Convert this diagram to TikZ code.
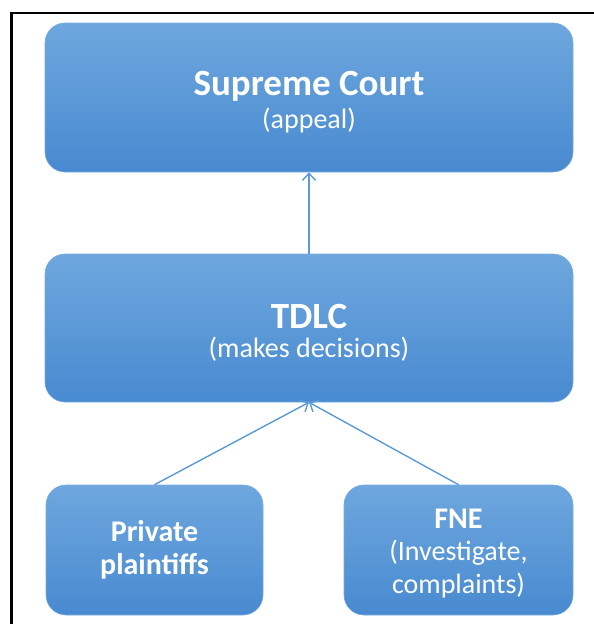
\documentclass[tikz,border=0pt]{standalone}
\usepackage{fontspec}
\setmainfont{Carlito}
\usepackage{tikz}
\usetikzlibrary{arrows.meta}
\definecolor{boxtop}{RGB}{110,167,222}
\definecolor{boxbottom}{RGB}{72,138,208}
\definecolor{boxline}{RGB}{120,172,222}
\definecolor{arrowblue}{RGB}{91,155,213}
\tikzstyle{court}=[rectangle,rounded corners=20pt,top color=boxtop,bottom color=boxbottom,draw=boxline,line width=0.6pt,text=white,align=center,inner sep=0pt,font=\fontsize{28}{32}\selectfont]
\tikzstyle{feed}=[arrowblue,line width=1.4pt,-{Straight Barb[length=7pt,width=13pt,line width=1.4pt]}]
\newcommand{\headtext}[1]{{\bfseries\fontsize{37}{32}\selectfont #1}}
\newcommand{\subtext}[1]{{\fontsize{28}{32}\selectfont #1}}
\newcommand{\smallhead}[1]{{\bfseries\fontsize{30}{32}\selectfont #1}}
\newcommand{\lift}[1]{\rule{0pt}{#1}}

\begin{document}
\begin{tikzpicture}[x=1pt,y=-1pt]
          \useasboundingbox (0,0) rectangle (594,624);
          \draw[line width=2.5pt] (11.5,624) -- (11.5,13) -- (594,13);
          \node[court,minimum width=528pt,minimum height=149pt] (supreme) at (309,97.5)
            {\lift{34pt}\headtext{Supreme Court}\\[1pt]\subtext{(appeal)}};
          \node[court,minimum width=528pt,minimum height=148pt] (tdlc) at (309,328)
            {\lift{34pt}\headtext{TDLC}\\[-3pt]\subtext{(makes decisions)}};
          \node[court,minimum width=217pt,minimum height=130pt] (private) at (154.5,550)
            {\smallhead{Private}\\[1pt]\smallhead{plaintiffs}};
          \node[court,minimum width=229pt,minimum height=130pt] (fne) at (458.5,550)
            {\lift{26pt}\smallhead{FNE}\\\subtext{(Investigate,}\\[1pt]\subtext{complaints)}};
          \draw[feed] (tdlc.north) -- (supreme.south);
          \draw[feed] (private.north) -- (tdlc.south);
          \draw[feed] (fne.north) -- (tdlc.south);
        \end{tikzpicture}
\end{document}
